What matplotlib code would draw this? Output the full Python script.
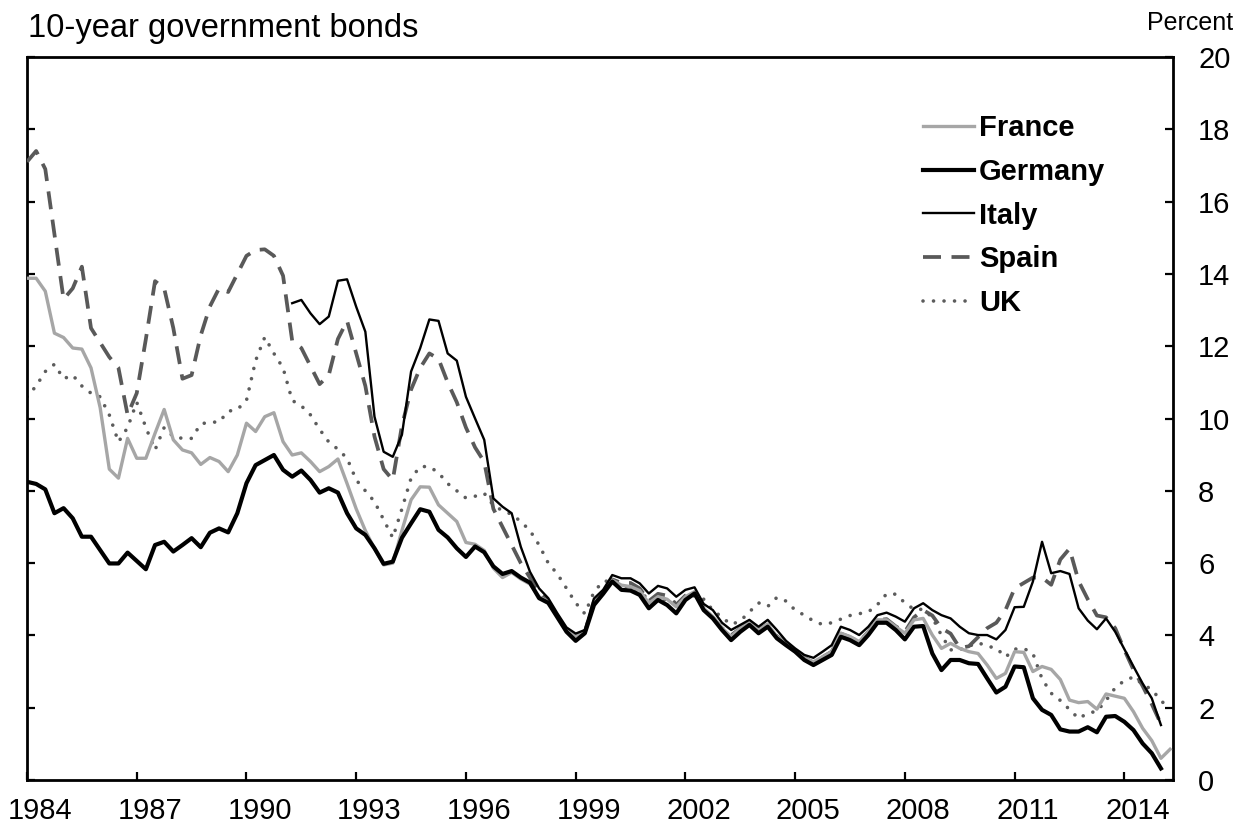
import numpy as np
import matplotlib
matplotlib.use("Agg")
import matplotlib.pyplot as plt
from matplotlib.ticker import FixedLocator, NullFormatter, FixedFormatter

plt.rcParams['font.family'] = ['Liberation Sans', 'DejaVu Sans']

# ---------------- data (quarterly, first value = 1984Q1) ----------------
start_year = 1984
title = "10-year government bonds"
unit_label = "Percent"
tick_years = [1984, 1987, 1990, 1993, 1996, 1999, 2002, 2005, 2008, 2011, 2014]
y_ticks = [0, 2, 4, 6, 8, 10, 12, 14, 16, 18, 20]

france = [13.88, 13.88, 13.52, 12.36, 12.24, 11.95, 11.92, 11.40, 10.30, 8.60,
          8.35, 9.45, 8.90, 8.90, 9.59, 10.25, 9.41, 9.13, 9.05, 8.73,
          8.92, 8.81, 8.53, 8.99, 9.87, 9.64, 10.05, 10.16, 9.36, 8.99,
          9.05, 8.81, 8.53, 8.67, 8.88, 8.20, 7.50, 6.90, 6.40, 5.95,
          6.00, 6.90, 7.75, 8.11, 8.10, 7.61, 7.38, 7.15, 6.57, 6.52,
          6.35, 5.86, 5.60, 5.74, 5.56, 5.42, 5.07, 4.93, 4.54, 4.15,
          3.97, 4.10, 4.93, 5.21, 5.53, 5.39, 5.35, 5.24, 4.89, 5.07,
          5.00, 4.79, 5.07, 5.21, 4.75, 4.52, 4.20, 3.97, 4.20, 4.35,
          4.15, 4.31, 3.97, 3.78, 3.58, 3.37, 3.27, 3.41, 3.55, 4.06,
          3.97, 3.83, 4.10, 4.43, 4.43, 4.24, 4.06, 4.43, 4.47, 4.01,
          3.64, 3.78, 3.64, 3.55, 3.50, 3.18, 2.81, 2.95, 3.55, 3.53,
          3.00, 3.14, 3.06, 2.78, 2.21, 2.14, 2.17, 1.96, 2.38, 2.32,
          2.26, 1.89, 1.43, 1.09, 0.60, 0.85]

germany = [8.25, 8.19, 8.04, 7.38, 7.52, 7.24, 6.73, 6.73, 6.36, 5.99,
           5.99, 6.29, 6.06, 5.83, 6.50, 6.59, 6.32, 6.50, 6.69, 6.44,
           6.84, 6.96, 6.85, 7.38, 8.21, 8.71, 8.85, 8.99, 8.58, 8.39,
           8.56, 8.30, 7.95, 8.07, 7.95, 7.38, 6.96, 6.78, 6.41, 5.98,
           6.04, 6.70, 7.10, 7.49, 7.42, 6.92, 6.71, 6.41, 6.17, 6.46,
           6.30, 5.91, 5.70, 5.78, 5.60, 5.46, 5.03, 4.90, 4.50, 4.10,
           3.85, 4.06, 4.84, 5.15, 5.49, 5.26, 5.24, 5.12, 4.75, 4.98,
           4.84, 4.61, 4.98, 5.16, 4.70, 4.47, 4.15, 3.87, 4.10, 4.29,
           4.06, 4.24, 3.92, 3.73, 3.55, 3.32, 3.18, 3.32, 3.46, 3.96,
           3.87, 3.73, 4.01, 4.35, 4.35, 4.15, 3.89, 4.24, 4.26, 3.50,
           3.04, 3.32, 3.32, 3.23, 3.21, 2.81, 2.42, 2.58, 3.14, 3.12,
           2.26, 1.94, 1.80, 1.40, 1.34, 1.34, 1.46, 1.32, 1.75, 1.77,
           1.61, 1.38, 1.01, 0.74, 0.32]

italy_start = 29   # series begins in 1991Q2
italy = [13.19, 13.28, 12.91, 12.61, 12.82, 13.81, 13.85, 13.09, 12.40, 10.05,
         9.08, 8.94, 9.55, 11.30, 11.95, 12.74, 12.70, 11.80, 11.60, 10.60,
         10.00, 9.41, 7.79, 7.56, 7.38, 6.45, 5.76, 5.30, 5.03, 4.61,
         4.22, 4.05, 4.15, 5.02, 5.26, 5.67, 5.58, 5.58, 5.44, 5.16,
         5.37, 5.30, 5.07, 5.26, 5.33, 4.87, 4.70, 4.35, 4.15, 4.29,
         4.43, 4.24, 4.43, 4.15, 3.85, 3.64, 3.46, 3.38, 3.55, 3.73,
         4.24, 4.15, 4.01, 4.24, 4.56, 4.63, 4.52, 4.38, 4.75, 4.89,
         4.70, 4.56, 4.47, 4.24, 4.06, 4.01, 4.01, 3.89, 4.15, 4.78,
         4.79, 5.49, 6.59, 5.72, 5.78, 5.70, 4.75, 4.41, 4.17, 4.47,
         4.10, 3.62, 3.14, 2.67, 2.26, 1.52]

spain = [17.10, 17.40, 16.90, 15.10, 13.30, 13.60, 14.20, 12.50, 12.10, 11.70,
         11.40, 10.10, 10.70, 12.20, 13.80, 13.60, 12.50, 11.10, 11.20, 12.30,
         13.10, 13.60, 13.50, 14.00, 14.50, 14.66, 14.68, 14.50, 13.95, 12.15,
         11.95, 11.45, 10.95, 11.20, 12.20, 12.70, 11.80, 10.90, 9.50, 8.60,
         8.30, 9.80, 10.80, 11.40, 11.80, 11.65, 11.00, 10.45, 9.75, 9.20,
         8.80, 7.50, 7.00, 6.50, 6.00, 5.60, 5.20, 4.95, 4.55, 4.12,
         3.95, 4.10, 4.95, 5.20, 5.55, 5.45, 5.45, 5.30, 4.95, 5.15,
         5.10, 4.85, 5.10, 5.20, 4.75, 4.50, 4.20, 4.00, 4.20, 4.35,
         4.15, 4.30, 3.98, 3.78, 3.58, 3.38, 3.25, 3.40, 3.55, 4.05,
         3.95, 3.82, 4.10, 4.42, 4.45, 4.25, 4.10, 4.50, 4.70, 4.55,
         4.20, 4.05, 3.65, 3.70, 3.95, 4.20, 4.35, 4.70, 5.30, 5.45,
         5.60, 5.60, 5.40, 6.10, 6.40, 5.50, 5.00, 4.55, 4.50, 4.20,
         3.60, 3.05, 2.60, 2.10, 1.55]

uk = [10.60, 10.90, 11.30, 11.50, 11.10, 11.20, 10.90, 10.70, 10.60, 10.10,
      9.35, 9.75, 10.45, 9.75, 9.13, 9.75, 9.50, 9.45, 9.45, 9.85,
      9.90, 9.90, 10.20, 10.25, 10.50, 11.60, 12.25, 11.80, 11.40, 10.50,
      10.35, 10.10, 9.70, 9.35, 9.15, 8.90, 8.30, 8.00, 7.70, 7.20,
      6.70, 7.50, 8.35, 8.67, 8.67, 8.50, 8.20, 8.00, 7.80, 7.85,
      7.93, 7.60, 7.45, 7.35, 7.15, 6.90, 6.50, 6.00, 5.70, 5.30,
      4.90, 4.60, 5.20, 5.50, 5.50, 5.40, 5.30, 5.20, 5.00, 4.95,
      5.00, 4.90, 5.00, 5.10, 5.00, 4.70, 4.50, 4.30, 4.40, 4.65,
      4.90, 4.80, 5.05, 4.95, 4.70, 4.56, 4.40, 4.30, 4.35, 4.45,
      4.55, 4.60, 4.65, 4.85, 5.15, 5.14, 4.90, 4.72, 4.72, 4.50,
      4.00, 3.60, 3.60, 3.70, 3.80, 3.70, 3.65, 3.40, 3.62, 3.64,
      3.50, 2.80, 2.40, 2.20, 1.95, 1.70, 1.85, 1.90, 2.20, 2.55,
      2.75, 2.85, 2.65, 2.50, 2.20, 1.95]


def quarter_x(n, first=0):
    return start_year + (np.arange(n) + first) / 4.0


# ---------------- figure ----------------
W, H = 1246, 823
fig = plt.figure(figsize=(W / 100, H / 100), dpi=100)
ax_l, ax_r, ax_t, ax_b = 27, 1173, 57, 780
ax = fig.add_axes([ax_l / W, 1 - ax_b / H, (ax_r - ax_l) / W, (ax_b - ax_t) / H])

ax.plot(quarter_x(len(uk)), uk, color='#5c5c5c', lw=2.6,
        linestyle=(0, (0.01, 2.9)), dash_capstyle='round', label='UK', zorder=2)
ax.plot(quarter_x(len(spain)), spain, color='#595959', lw=2.7,
        linestyle=(0, (4.8, 2.8)), label='Spain', zorder=3)
ax.plot(quarter_x(len(france)), france, color='#a6a6a6', lw=2.4,
        label='France', zorder=4)
ax.plot(quarter_x(len(italy), italy_start), italy, color='black', lw=1.7,
        label='Italy', zorder=5)
ax.plot(quarter_x(len(germany)), germany, color='black', lw=3.0,
        label='Germany', zorder=6)

ax.set_xlim(1984, 2015.33)
ax.set_ylim(0, 20)

for sp in ax.spines.values():
    sp.set_linewidth(2.0)

# y axis: ticks both sides, labels right
ax.yaxis.set_major_locator(FixedLocator(y_ticks))
ax.tick_params(axis='y', which='major', direction='in', left=True, right=True,
               labelleft=False, labelright=True, length=6, width=1.6,
               labelsize=21, pad=18)

# x axis: ticks at year starts, labels slightly to the right
ax.xaxis.set_major_locator(FixedLocator(tick_years))
ax.xaxis.set_major_formatter(NullFormatter())
ax.xaxis.set_minor_locator(FixedLocator([y + 0.36 for y in tick_years]))
ax.xaxis.set_minor_formatter(FixedFormatter([str(y) for y in tick_years]))
ax.tick_params(axis='x', which='major', direction='in', length=6, width=1.6,
               top=False)
ax.tick_params(axis='x', which='minor', length=0, labelsize=21, pad=12)

# legend
order = ['France', 'Germany', 'Italy', 'Spain', 'UK']
handles, labels = ax.get_legend_handles_labels()
hmap = dict(zip(labels, handles))
leg = ax.legend([hmap[k] for k in order], order, loc='upper left',
                bbox_to_anchor=(0.782, 0.921), frameon=False,
                prop={'size': 21, 'weight': 'bold'}, handlelength=1.75,
                handletextpad=0.16, labelspacing=0.54, borderpad=0,
                borderaxespad=0)

fig.text(28 / W, 1 - 37 / H, title, fontsize=23.5, ha='left', va='baseline')
fig.text(1233 / W, 1 - 30 / H, unit_label, fontsize=18, ha='right', va='baseline')

fig.savefig('out.png', dpi=100)
